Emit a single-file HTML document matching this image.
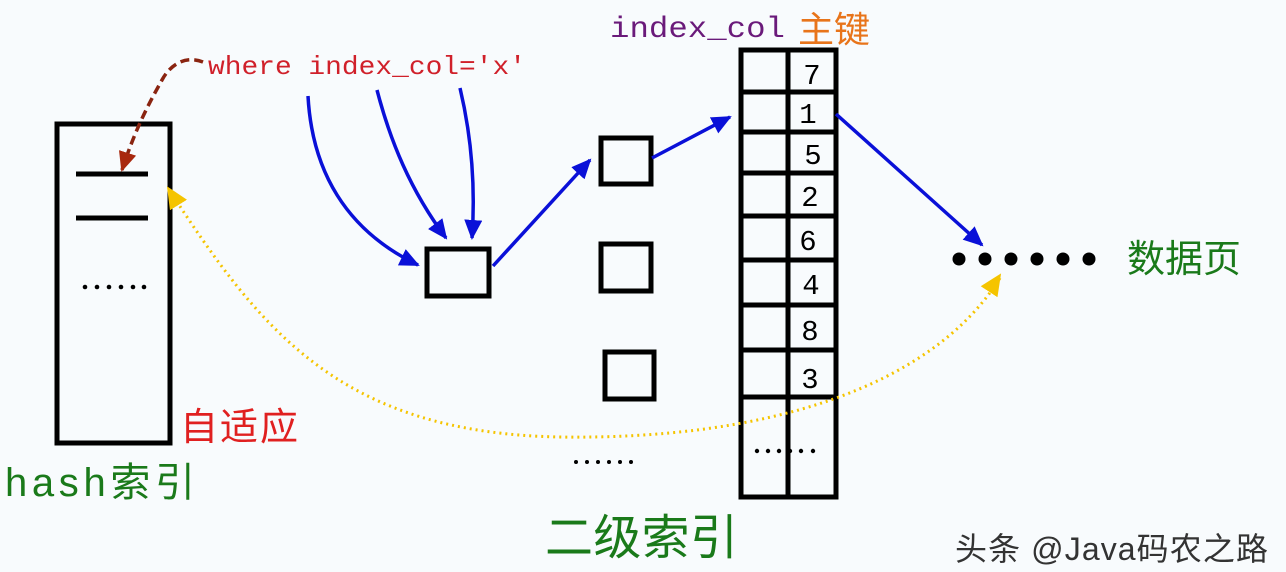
<!DOCTYPE html>
<html><head><meta charset="utf-8"><style>
body{margin:0;background:#f8fbfd;}
svg{display:block}
text{font-family:"Liberation Mono","Noto Sans CJK SC",monospace}
.cjk{font-family:"Liberation Sans","Noto Sans CJK SC",sans-serif}
</style></head><body>
<svg width="1286" height="572" viewBox="0 0 1286 572" xmlns="http://www.w3.org/2000/svg">
<defs>
<marker id="bh" markerWidth="20" markerHeight="18" refX="18" refY="9" orient="auto" markerUnits="userSpaceOnUse"><path d="M0,0 L20,9 L0,18 z" fill="#0a10d8"/></marker>
<marker id="rh" markerWidth="20" markerHeight="18" refX="18" refY="9" orient="auto" markerUnits="userSpaceOnUse"><path d="M0,0 L20,9 L0,18 z" fill="#a8280e"/></marker>
<marker id="yh" markerWidth="22" markerHeight="20" refX="20" refY="10" orient="auto" markerUnits="userSpaceOnUse"><path d="M0,0 L22,10 L0,20 z" fill="#f5c400"/></marker>
</defs>
<rect width="1286" height="572" fill="#f8fbfd"/>
<rect x="57" y="124" width="113" height="319" fill="none" stroke="#000" stroke-width="5"/>
<line x1="76" y1="174" x2="148" y2="174" stroke="#000" stroke-width="5"/>
<line x1="76" y1="218" x2="148" y2="218" stroke="#000" stroke-width="5"/>
<g fill="#000"><circle cx="85" cy="287" r="2.3"/><circle cx="97" cy="287" r="2.3"/><circle cx="109" cy="287" r="2.3"/><circle cx="121" cy="287" r="2.3"/><circle cx="133" cy="287" r="2.3"/><circle cx="144" cy="287" r="2.3"/></g>
<text x="180" y="440" class="cjk" font-size="38" fill="#e02020" textLength="118">自适应</text>
<text x="5" y="496" class="cjk" font-size="40" fill="#1a7a1a" textLength="190">hash索引</text>
<text x="208" y="74" font-size="26" fill="#d0202a" textLength="318" lengthAdjust="spacingAndGlyphs">where index_col='x'</text>
<path d="M203,62 C185,55 170,65 162,80 C148,105 135,130 122,170" fill="none" stroke="#8a2410" stroke-width="3.5" stroke-dasharray="9,5" marker-end="url(#rh)"/>
<path d="M308,96 C312,170 345,230 418,265" fill="none" stroke="#0a10d8" stroke-width="3.5" marker-end="url(#bh)"/>
<path d="M377,90 C390,140 410,190 446,238" fill="none" stroke="#0a10d8" stroke-width="3.5" marker-end="url(#bh)"/>
<path d="M460,88 C470,130 476,180 472,238" fill="none" stroke="#0a10d8" stroke-width="3.5" marker-end="url(#bh)"/>
<rect x="427" y="249" width="62" height="47" fill="none" stroke="#000" stroke-width="5"/>
<line x1="493" y1="266" x2="590" y2="160" stroke="#0a10d8" stroke-width="3.5" marker-end="url(#bh)"/>
<rect x="601" y="138" width="50" height="46" fill="none" stroke="#000" stroke-width="5"/>
<line x1="652" y1="158" x2="730" y2="117" stroke="#0a10d8" stroke-width="3.5" marker-end="url(#bh)"/>
<rect x="601" y="244" width="50" height="47" fill="none" stroke="#000" stroke-width="5"/>
<rect x="605" y="352" width="49" height="47" fill="none" stroke="#000" stroke-width="5"/>
<g fill="#000"><circle cx="576" cy="462" r="2"/><circle cx="587" cy="462" r="2"/><circle cx="598" cy="462" r="2"/><circle cx="609" cy="462" r="2"/><circle cx="620" cy="462" r="2"/><circle cx="631" cy="462" r="2"/></g>
<text x="545" y="554" class="cjk" font-size="48" fill="#1a7a1a" textLength="193">二级索引</text>
<text x="610" y="37" font-size="30" fill="#6a1a7a" textLength="175" lengthAdjust="spacingAndGlyphs">index_col</text>
<text x="798" y="42" class="cjk" font-size="36" fill="#e8741a">主键</text>
<g stroke="#000" stroke-width="5" fill="none">
<rect x="741" y="50" width="95" height="447"/>
<line x1="788" y1="50" x2="788" y2="497"/>
<line x1="741" y1="92" x2="836" y2="92"/>
<line x1="741" y1="132" x2="836" y2="132"/>
<line x1="741" y1="173" x2="836" y2="173"/>
<line x1="741" y1="216" x2="836" y2="216"/>
<line x1="741" y1="260" x2="836" y2="260"/>
<line x1="741" y1="305" x2="836" y2="305"/>
<line x1="741" y1="350" x2="836" y2="350"/>
<line x1="741" y1="397" x2="836" y2="397"/>
</g>
<g font-family="Liberation Sans Narrow,Liberation Sans,sans-serif" font-size="29" fill="#000" text-anchor="middle">
<text x="812" y="84">7</text><text x="808" y="123">1</text><text x="813" y="164">5</text>
<text x="810" y="206">2</text><text x="808" y="250">6</text><text x="811" y="294">4</text>
<text x="810" y="340">8</text><text x="810" y="388">3</text>
</g>
<g fill="#000"><circle cx="757" cy="451" r="2.2"/><circle cx="768" cy="451" r="2.2"/><circle cx="779" cy="451" r="2.2"/><circle cx="790" cy="451" r="2.2"/><circle cx="801" cy="451" r="2.2"/><circle cx="813" cy="451" r="2.2"/></g>
<line x1="836" y1="114" x2="982" y2="245" stroke="#0a10d8" stroke-width="3.5" marker-end="url(#bh)"/>
<g fill="#000"><circle cx="959" cy="259" r="6.5"/><circle cx="985" cy="259" r="6.5"/><circle cx="1011" cy="259" r="6.5"/><circle cx="1037" cy="259" r="6.5"/><circle cx="1063" cy="259" r="6.5"/><circle cx="1089" cy="259" r="6.5"/></g>
<text x="1127" y="272" class="cjk" font-size="38" fill="#1a7a1a">数据页</text>
<path d="M1000,278 C930,390 760,440 560,437 C340,433 260,330 168,188" fill="none" stroke="#f5c400" stroke-width="3" stroke-dasharray="2,4"/>
<path d="M200,240 L168,188" fill="none" stroke="none" marker-end="url(#yh)"/>
<path d="M985,298 L1000,275" fill="none" stroke="none" marker-end="url(#yh)"/>
<text x="955" y="560" class="cjk" font-size="32" fill="#333" textLength="313">头条 @Java码农之路</text>
</svg>
</body></html>
